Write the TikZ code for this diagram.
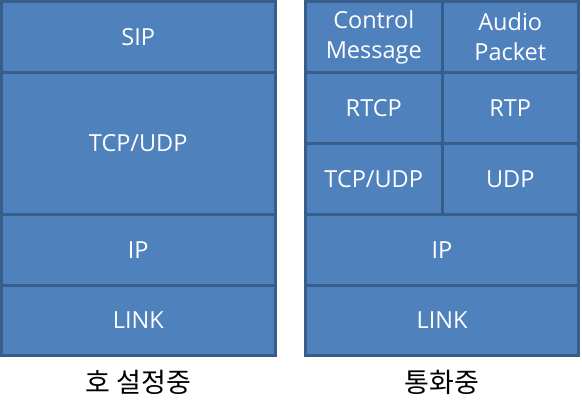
\documentclass[tikz,border=0pt]{standalone}
\usepackage{fontspec}
\setmainfont{Open Sans}
\newfontfamily\krfont{Noto Sans CJK KR}
\definecolor{cellfill}{HTML}{4F81BD}
\definecolor{cellline}{HTML}{385D8A}
\begin{document}
\begin{tikzpicture}[x=1pt,y=-1pt,
  cell/.style 2 args={draw=cellline, fill=cellfill, line width=3pt, inner sep=0pt, outer sep=0pt,
    minimum width=#1, minimum height=#2, text=white, align=center,
    font=\fontsize{23.5}{30}\selectfont},
  caption/.style={font=\krfont\fontsize{27}{32}\selectfont, text=black, inner sep=0pt}]
\useasboundingbox (0,0) rectangle (582,409);
% left stack (x 1.5 .. 275)
\node[cell={273.5pt}{71pt}]  (sip)  at (138.25,37)   {SIP};
\node[cell={273.5pt}{142pt}] (tcpl) at (138.25,143.5) {TCP/UDP};
\node[cell={273.5pt}{71pt}]  (ipl)  at (138.25,250)  {IP};
\node[cell={273.5pt}{70pt}]  (lnkl) at (138.25,320.5) {LINK};
% right stack (x 305.5 .. 578.5, divider 442)
\node[cell={136.5pt}{71pt}]  (ctrl) at (373.75,37)   {Control\\Message};
\node[cell={136.5pt}{71pt}]  (aud)  at (510.25,37)   {Audio\\Packet};
\node[cell={136.5pt}{71pt}]  (rtcp) at (373.75,108)  {RTCP};
\node[cell={136.5pt}{71pt}]  (rtp)  at (510.25,108)  {RTP};
\node[cell={136.5pt}{71pt}]  (tcpr) at (373.75,179)  {TCP/UDP};
\node[cell={136.5pt}{71pt}]  (udp)  at (510.25,179)  {UDP};
\node[cell={273pt}{71pt}]    (ipr)  at (442,250)     {IP};
\node[cell={273pt}{70pt}]    (lnkr) at (442,320.5)   {LINK};
% captions
\node[caption] (capl) at (138.5,382) {호 설정중};
\node[caption] (capr) at (442,382) {통화중};
\end{tikzpicture}
\end{document}
